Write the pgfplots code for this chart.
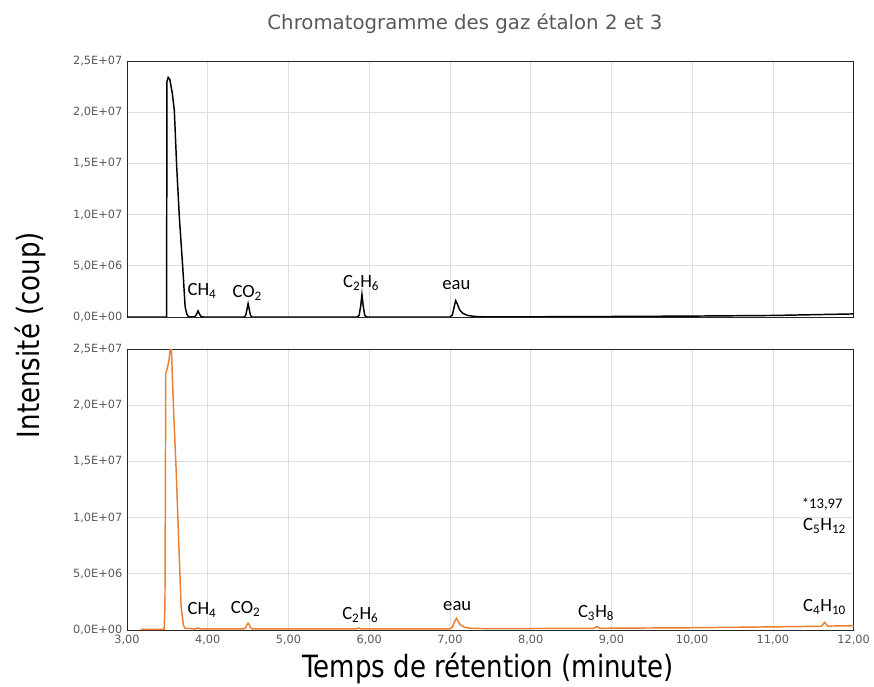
\documentclass[border=0pt]{standalone}
\usepackage{fontspec}
\setmainfont{DejaVu Sans}
\newfontfamily\annfont{Carlito}
\newfontfamily\labfont{DejaVu Sans}[FakeStretch=0.85]
\usepackage{pgfplots}
\pgfplotsset{compat=1.18}
\definecolor{excelorange}{RGB}{237,125,49}
\definecolor{tickgray}{RGB}{89,89,89}
\definecolor{gridgray}{RGB}{222,222,222}

\pgfplotsset{chrom/.style={
  scale only axis, width=545pt,
  xmin=3, xmax=12, ymin=0, ymax=2.5e7,
  xtick={3,4,...,12},
  ytick={0,5e6,1e7,1.5e7,2e7,2.5e7},
  yticklabels={{0,0E+00},{5,0E+06},{1,0E+07},{1,5E+07},{2,0E+07},{2,5E+07}},
  grid=major, major grid style={gridgray, line width=0.6pt},
  major tick length=0pt,
  tick label style={font=\fontsize{8.5}{10}\selectfont, text=tickgray},
  axis line style={black!85, line width=0.7pt},
  scaled y ticks=false,
}}
\newcommand{\ann}[1]{{\annfont\fontsize{14}{16}\selectfont #1}}

\begin{document}
\begin{tikzpicture}
\path[use as bounding box] (-95.25pt,-42pt) rectangle (560.25pt,472.5pt);

% panneau du haut : etalon 2
\begin{axis}[chrom, at={(0,234.75pt)}, height=192pt, xticklabels={}]
\addplot[black, line width=1.1pt] coordinates {
(3.00,0) (3.48,0) (3.49,0) (3.495,2.30e7) (3.51,2.34e7) (3.53,2.32e7)
(3.56,2.19e7) (3.586,2.02e7) (3.616,1.46e7) (3.648,9.8e6) (3.69,4.9e6)
(3.72,1.0e6) (3.74,3e5) (3.76,5e4) (3.78,0) (3.84,2e4) (3.86,2.5e5)
(3.88,6e5) (3.90,2.5e5) (3.92,3e4) (3.95,0) (4.45,0) (4.47,1.5e5)
(4.485,7e5) (4.50,1.3e6) (4.515,7e5) (4.53,1.5e5) (4.55,0)
(5.85,0) (5.875,1.5e5) (5.895,1.1e6) (5.91,2.2e6) (5.925,1.1e6)
(5.945,1.5e5) (5.97,0) (7.00,0) (7.03,2e5) (7.05,9e5) (7.07,1.6e6)
(7.09,1.3e6) (7.12,7e5) (7.16,3.5e5) (7.22,1.5e5) (7.30,6e4) (7.40,2e4)
(8.00,2e4) (9.00,5e4) (10.00,9e4) (11.00,1.5e5) (12.00,3e5)
};
\node at (axis cs:3.93,2.54e6) {\ann{CH\textsubscript{4}}};
\node at (axis cs:4.49,2.34e6) {\ann{CO\textsubscript{2}}};
\node at (axis cs:5.90,3.3e6) {\ann{C\textsubscript{2}H\textsubscript{6}}};
\node at (axis cs:7.08,3.1e6) {\ann{eau}};
\end{axis}

% panneau du bas : etalon 3
\begin{axis}[chrom, at={(0,0)}, height=210.75pt,
  xticklabels={{3,00},{4,00},{5,00},{6,00},{7,00},{8,00},{9,00},{10,00},{11,00},{12,00}}]
\addplot[excelorange, line width=1.1pt] coordinates {
(3.17,5e4) (3.46,5e4) (3.47,2e6) (3.48,2.28e7) (3.50,2.33e7) (3.52,2.40e7)
(3.535,2.5e7) (3.55,2.5e7) (3.575,1.99e7) (3.61,1.40e7) (3.64,8.0e6)
(3.67,2.1e6) (3.70,4e5) (3.72,1.5e5) (3.85,1e5) (3.88,1.8e5) (3.91,1e5)
(4.45,1e5) (4.47,2e5) (4.485,4.5e5) (4.50,6e5) (4.515,4.5e5) (4.53,2e5)
(4.55,1e5) (5.84,1e5) (5.87,1.8e5) (5.90,1e5) (7.00,1e5) (7.03,2.5e5)
(7.05,6.5e5) (7.08,1.05e6) (7.10,8e5) (7.13,4.5e5) (7.18,2.5e5)
(7.26,1.5e5) (7.50,1.2e5) (8.78,1.5e5) (8.82,2.9e5) (8.86,1.5e5)
(9.00,1.6e5) (10.00,2e5) (11.00,2.8e5) (11.60,3.3e5) (11.64,6.8e5)
(11.68,3.5e5) (12.00,3.8e5)
};
\node at (axis cs:3.93,1.78e6) {\ann{CH\textsubscript{4}}};
\node at (axis cs:4.47,1.87e6) {\ann{CO\textsubscript{2}}};
\node at (axis cs:5.89,1.33e6) {\ann{C\textsubscript{2}H\textsubscript{6}}};
\node at (axis cs:7.09,2.14e6) {\ann{eau}};
\node at (axis cs:8.81,1.51e6) {\ann{C\textsubscript{3}H\textsubscript{8}}};
\node at (axis cs:11.64,2.05e6) {\ann{C\textsubscript{4}H\textsubscript{10}}};
\node at (axis cs:11.61,1.12e7) {{\annfont\fontsize{11}{13}\selectfont *13,97}};
\node at (axis cs:11.64,9.25e6) {\ann{C\textsubscript{5}H\textsubscript{12}}};
\end{axis}

\node[text=tickgray, font=\fontsize{14.8}{17}\selectfont] at (253.5pt,454.5pt)
  {Chromatogramme des gaz étalon 2 et 3};
\node[font=\labfont\fontsize{23}{26}\selectfont] at (270.75pt,-28.5pt)
  {Temps de rétention (minute)};
\node[rotate=90, font=\labfont\fontsize{23}{26}\selectfont] at (-72.75pt,221.25pt)
  {Intensité (coup)};
\end{tikzpicture}
\end{document}
